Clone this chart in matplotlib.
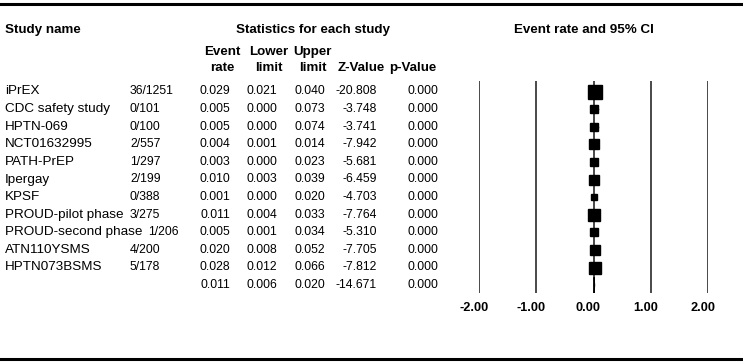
import matplotlib
matplotlib.use('Agg')
import matplotlib.pyplot as plt
import matplotlib.transforms as mtransforms

plt.rcParams['font.family'] = ['Liberation Sans', 'DejaVu Sans']

# study data
studies = ['iPrEX', 'CDC safety study', 'HPTN-069', 'NCT01632995', 'PATH-PrEP',
           'Ipergay', 'KPSF', 'PROUD-pilot phase', 'PROUD-second phase',
           'ATN110YSMS', 'HPTN073BSMS']
counts = ['36/1251', '0/101', '0/100', '2/557', '1/297', '2/199', '0/388',
          '3/275', '1/206', '4/200', '5/178']
event_rate = [0.029, 0.005, 0.005, 0.004, 0.003, 0.010, 0.001, 0.011, 0.005, 0.020, 0.028]
lower = [0.021, 0.000, 0.000, 0.001, 0.000, 0.003, 0.000, 0.004, 0.001, 0.008, 0.012]
upper = [0.040, 0.073, 0.074, 0.014, 0.023, 0.039, 0.020, 0.033, 0.034, 0.052, 0.066]
z_value = [-20.808, -3.748, -3.741, -7.942, -5.681, -6.459, -4.703, -7.764,
           -5.310, -7.705, -7.812]
p_value = [0.000] * 11
weights = [19.1, 4.5, 5.4, 9.1, 6.3, 8.6, 3.6, 13.7, 6.3, 11.0, 12.5]

# pooled estimate
pooled = dict(rate=0.011, lower=0.006, upper=0.020, z=-14.671, p=0.000)

ticks = [-2, -1, 0, 1, 2]

W, H = 743, 362
fig = plt.figure(figsize=(W / 100, H / 100), dpi=100)

# background axes in pixel coordinates
bg = fig.add_axes([0, 0, 1, 1])
bg.set_xlim(0, W)
bg.set_ylim(H, 0)
bg.axis('off')

# forest plot axes
x0, x1 = 478.7, 708.3
top, bot = 81, 292.7
fax = fig.add_axes([x0 / W, (H - bot) / H, (x1 - x0) / W, (bot - top) / H])
n = len(studies)
row0, row_h = 91.5, 17.6
fax.set_xlim(-2, 2)
fax.set_ylim((bot - row0) / row_h, (top - row0) / row_h)
for s in fax.spines.values():
    s.set_visible(False)
fax.set_yticks([])
fax.patch.set_visible(False)

for t in ticks:
    fax.axvline(t, color='#3a3a3a', lw=1.3, zorder=1)

for i in range(n):
    fax.plot([lower[i], upper[i]], [i, i], color='black', lw=1.0, zorder=2)
    fax.plot(event_rate[i], i, marker='s', color='black',
             markersize=2.38 * weights[i] ** 0.5, zorder=3)

# pooled diamond
fax.fill([pooled['lower'], pooled['rate'], pooled['upper'], pooled['rate']],
         [n, n - 0.45, n, n + 0.45], color='black', lw=0.8, zorder=3)

fax.set_xticks(ticks)
fax.set_xticklabels(['%.2f' % t for t in ticks], fontsize=9.2, fontweight='bold')
fax.tick_params(axis='x', length=0, pad=7)
offset = mtransforms.ScaledTranslation(-5 / 100, 0, fig.dpi_scale_trans)
for lab in fax.get_xticklabels():
    lab.set_transform(lab.get_transform() + offset)

# rules
bg.plot([0, W], [3.5, 3.5], color='black', lw=2.2)
bg.plot([0, W], [358.5, 358.5], color='black', lw=2.2)

# headers
hfs = 9.6
bg.text(5, 30, 'Study name', fontsize=hfs, fontweight='bold', va='center', ha='left')
bg.text(313, 30, 'Statistics for each study', fontsize=hfs, fontweight='bold',
        va='center', ha='center')
bg.text(584, 30, 'Event rate and 95% CI', fontsize=hfs, fontweight='bold',
        va='center', ha='center')
for x, l1, l2 in [(222, 'Event', 'rate'), (269, 'Lower', 'limit'),
                  (313, 'Upper', 'limit'), (361, '', 'Z-Value'), (413, '', 'p-Value')]:
    if l1:
        bg.text(x, 52, l1, fontsize=hfs, fontweight='bold', va='center', ha='center')
    bg.text(x, 68, l2, fontsize=hfs, fontweight='bold', va='center', ha='center')

# table rows
trans = mtransforms.blended_transform_factory(bg.transData, fax.transData)
nfs = 9.7
dfs = 8.8
fig.canvas.draw()
renderer = fig.canvas.get_renderer()
inv = bg.transData.inverted()
for i in range(n):
    name = bg.text(5, i, studies[i], fontsize=nfs, va='center', ha='left',
                   transform=trans)
    ext = name.get_window_extent(renderer)
    name_right = inv.transform((ext.x1, 0))[0]
    cx = max(130, name_right + 6)
    bg.text(cx, i, counts[i], fontsize=dfs, va='center', ha='left', transform=trans)

rows = [(event_rate[i], lower[i], upper[i], z_value[i], p_value[i]) for i in range(n)]
rows.append((pooled['rate'], pooled['lower'], pooled['upper'], pooled['z'], pooled['p']))
col_right = [230, 277, 325, 377, 438]
for i, vals in enumerate(rows):
    for xr, v in zip(col_right, vals):
        bg.text(xr, i, '%.3f' % v, fontsize=dfs, va='center', ha='right',
                transform=trans)

fig.savefig('out.png', dpi=100)
